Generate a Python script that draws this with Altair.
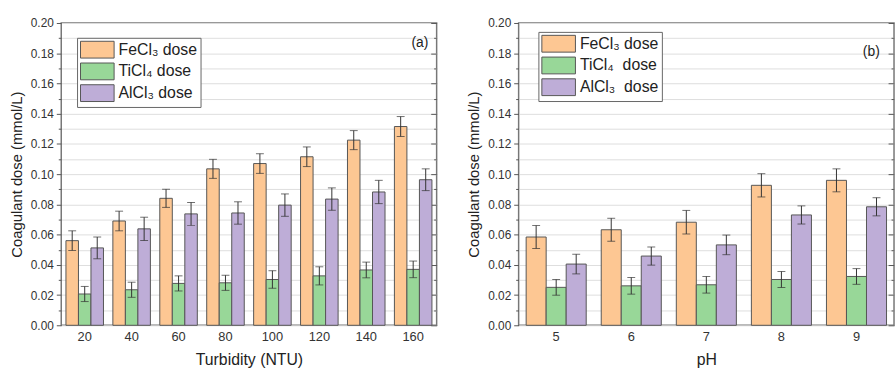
import altair as alt
import pandas as pd

# ---- data ----
turbidity = ["20", "40", "60", "80", "100", "120", "140", "160"]
ph = ["5", "6", "7", "8", "9"]

series_a = ["FeCl₃ dose", "TiCl₄ dose", "AlCl₃ dose"]
series_b = ["FeCl₃ dose", "TiCl₄\u00a0 dose", "AlCl₃\u00a0 dose"]

fecl3_a = [0.056, 0.069, 0.084, 0.1035, 0.107, 0.1115, 0.1225, 0.1315]
fecl3_a_err = [0.0065, 0.0065, 0.006, 0.0063, 0.0065, 0.0065, 0.0063, 0.0066]
ticl4_a = [0.0207, 0.0235, 0.0277, 0.0281, 0.0303, 0.0327, 0.0366, 0.037]
ticl4_a_err = [0.005, 0.005, 0.005, 0.005, 0.0058, 0.006, 0.0052, 0.0055]
alcl3_a = [0.0512, 0.0638, 0.0737, 0.0743, 0.0795, 0.0835, 0.0882, 0.0963]
alcl3_a_err = [0.0072, 0.0077, 0.0076, 0.0074, 0.0074, 0.0074, 0.0077, 0.0072]

fecl3_b = [0.0584, 0.0632, 0.0682, 0.0926, 0.0959]
fecl3_b_err = [0.0076, 0.0076, 0.0078, 0.0077, 0.0076]
ticl4_b = [0.0251, 0.0261, 0.0268, 0.0303, 0.0323]
ticl4_b_err = [0.0052, 0.0055, 0.0055, 0.0053, 0.0052]
alcl3_b = [0.0405, 0.0458, 0.0532, 0.073, 0.0784]
alcl3_b_err = [0.0065, 0.006, 0.0065, 0.006, 0.006]

y_ticks = [round(i * 0.01, 2) for i in range(21)]
colors = ["#FDC793", "#98D798", "#BEADD7"]

FONT = "Liberation Sans"
W, H = 380, 306


def panel(cats, series, vals, errs, xtitle, tag, lx, ly, tx, ty):
    rows = []
    for s, v, e in zip(series, vals, errs):
        for c, vi, ei in zip(cats, v, e):
            rows.append({"cat": c, "series": s, "value": vi,
                         "lo": vi - ei, "hi": vi + ei})
    df = pd.DataFrame(rows)
    base = alt.Chart(df)

    x = alt.X("cat:N", sort=cats,
              scale=alt.Scale(type="band", paddingInner=0.2, paddingOuter=0.1),
              axis=alt.Axis(title=xtitle, labelAngle=0, ticks=False, domain=False,
                            labelFontSize=13, labelPadding=5, titleFontSize=16,
                            titlePadding=9))
    xo = alt.XOffset("series:N", sort=series,
                     scale=alt.Scale(type="band", domain=series,
                                     paddingInner=0, paddingOuter=0))
    yscale = alt.Scale(domain=[0, 0.2], nice=False)

    bars = base.mark_bar(stroke="#555555", strokeWidth=1).encode(
        x=x, xOffset=xo,
        y=alt.Y("value:Q", scale=yscale,
                axis=alt.Axis(title="Coagulant dose (mmol/L)", values=y_ticks,
                              labelExpr="round(datum.value*100)%2==0 ? format(datum.value,'.2f') : ''",
                              tickSize={"expr": "round(datum.value*100)%2==1 ? 3 : 5"},
                              domain=False, labelFontSize=12, labelPadding=3,
                              titleFontSize=15, titlePadding=6)),
        color=alt.Color("series:N", sort=series,
                        scale=alt.Scale(domain=series, range=colors),
                        legend=alt.Legend(title=None, orient="none", legendX=lx, legendY=ly,
                                          symbolType="M-1,-1H3V1H-1Z", symbolSize=289,
                                          symbolStrokeColor="#555555", symbolStrokeWidth=1,
                                          symbolOpacity=1,
                                          labelFontSize=16, labelFont=FONT, labelColor="#222222",
                                          labelLimit=0, strokeColor="#666666", fillColor="white",
                                          padding=3, rowPadding=0, labelOffset=21)),
    )
    rule = base.mark_rule(color="#333333", strokeWidth=1).encode(
        x=x, xOffset=xo,
        y=alt.Y("lo:Q", scale=yscale,
                axis=alt.Axis(orient="right", values=y_ticks, labels=False, domain=False,
                              title=None,
                              tickSize={"expr": "round(datum.value*100)%2==1 ? -3 : -6"})),
        y2="hi:Q",
    )
    cap_lo = base.mark_tick(color="#333333", thickness=1, size=8, orient="horizontal").encode(
        x=x, xOffset=xo, y=alt.Y("lo:Q", scale=yscale, axis=None))
    cap_hi = base.mark_tick(color="#333333", thickness=1, size=8, orient="horizontal").encode(
        x=x, xOffset=xo, y=alt.Y("hi:Q", scale=yscale, axis=None))
    label = alt.Chart(pd.DataFrame({"t": [tag]})).mark_text(
        font=FONT, fontSize=14, color="#222222").encode(
        text="t:N", x=alt.value(tx), y=alt.value(ty))

    return alt.layer(bars, rule, cap_lo, cap_hi, label).resolve_axis(
        y="independent").properties(width=W, height=H)


left = panel(turbidity, series_a, [fecl3_a, ticl4_a, alcl3_a],
             [fecl3_a_err, ticl4_a_err, alcl3_a_err], "Turbidity (NTU)", "(a)",
             16, 15, 363, 20)
right = panel(ph, series_b, [fecl3_b, ticl4_b, alcl3_b],
              [fecl3_b_err, ticl4_b_err, alcl3_b_err], "pH", "(b)",
              20, 9, 357, 29)

chart = alt.hconcat(left, right, spacing=27).resolve_scale(
    color="independent", x="independent", y="independent", xOffset="independent"
).properties(
    padding={"left": 8, "top": 14, "right": 0, "bottom": 0}
).configure(font=FONT).configure_view(
    stroke="#777777", strokeWidth=1.5
).configure_axis(
    labelFont=FONT, titleFont=FONT, labelColor="#333333", titleColor="#222222",
    tickColor="#555555", titleFontWeight="normal"
)

chart.save("out.html", embed_options={"renderer": "svg", "actions": False})
